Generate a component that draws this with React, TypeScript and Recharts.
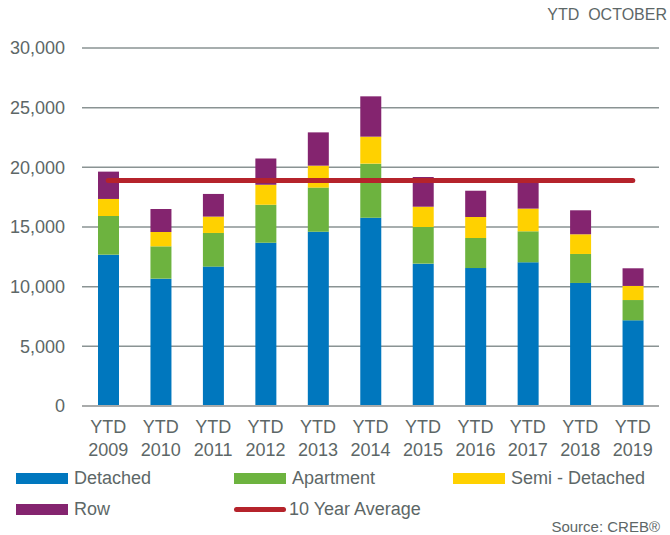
import { ComposedChart, Bar, Line, XAxis, YAxis, CartesianGrid } from 'recharts';

const years = ['2009', '2010', '2011', '2012', '2013', '2014', '2015', '2016', '2017', '2018', '2019'];
const detached = [12680, 10670, 11680, 13690, 14610, 15780, 11930, 11560, 12040, 10310, 7180];
const apartment = [3240, 2710, 2820, 3180, 3690, 4530, 3070, 2520, 2600, 2430, 1700];
const semiDetached = [1430, 1200, 1370, 1680, 1840, 2260, 1700, 1760, 1900, 1650, 1180];
const row = [2290, 1930, 1900, 2200, 2790, 3380, 2490, 2200, 2360, 2010, 1480];
const tenYearAverage = [18900, 18900, 18900, 18900, 18900, 18900, 18900, 18900, 18900, 18900, 18900];
const yTicks = [0, 5000, 10000, 15000, 20000, 25000, 30000];

const COLORS = {
  detached: '#0077BE',
  apartment: '#6DB33F',
  semi: '#FFD100',
  row: '#84246F',
  avg: '#B5232B',
};
const TEXT = '#5d6767';
const FONT = '"Liberation Sans", Arial, sans-serif';

const data = years.map((y, i) => ({
  year: y,
  detached: detached[i],
  apartment: apartment[i],
  semi: semiDetached[i],
  row: row[i],
  avg: tenYearAverage[i],
}));

function YearTick(props: any) {
  const { x, y, payload } = props;
  return (
    <text x={x} y={y} textAnchor="middle" fill={TEXT} fontSize={18} fontFamily={FONT}>
      <tspan x={x} dy={25}>YTD</tspan>
      <tspan x={x} dy={23}>{payload.value}</tspan>
    </text>
  );
}

function LegendItem({ left, top, label, color, line }: any) {
  return (
    <div style={{ position: 'absolute', left, top, display: 'flex', alignItems: 'center', height: 20 }}>
      {line ? (
        <div style={{ width: 52, height: 5, borderRadius: 3, background: color }} />
      ) : (
        <div style={{ width: 52, height: 11, background: color }} />
      )}
      <span style={{ marginLeft: line ? 3 : 6, fontSize: 18, color: TEXT, fontFamily: FONT }}>{label}</span>
    </div>
  );
}

export default function App() {
  return (
    <div style={{ position: 'absolute', left: 0, top: 0, width: 670, height: 535, background: '#fff', fontFamily: FONT }}>
      <div style={{ position: 'absolute', right: 3, top: 6, fontSize: 16, color: TEXT, whiteSpace: 'pre' }}>YTD  OCTOBER</div>
      <ComposedChart
        width={670}
        height={535}
        data={data}
        margin={{ top: 48, right: 11, bottom: 74, left: 0 }}
        barCategoryGap="30%"
      >
        <CartesianGrid vertical={false} stroke="#8a9393" strokeWidth={1.5} />
        <XAxis
          dataKey="year"
          tick={<YearTick />}
          tickLine={false}
          tickSize={0}
          axisLine={{ stroke: '#a9abab', strokeWidth: 2 }}
          height={55}
          interval={0}
        />
        <YAxis
          domain={[0, 30000]}
          ticks={yTicks}
          width={82}
          tickLine={false}
          tickSize={0}
          tickMargin={17}
          axisLine={false}
          tick={{ fill: TEXT, fontSize: 18, fontFamily: FONT }}
          tickFormatter={(v: number) => v.toLocaleString('en-US')}
        />
        <Bar dataKey="detached" stackId="a" fill={COLORS.detached} barSize={21} isAnimationActive={false} />
        <Bar dataKey="apartment" stackId="a" fill={COLORS.apartment} barSize={21} isAnimationActive={false} />
        <Bar dataKey="semi" stackId="a" fill={COLORS.semi} barSize={21} isAnimationActive={false} />
        <Bar dataKey="row" stackId="a" fill={COLORS.row} barSize={21} isAnimationActive={false} />
        <Line
          type="linear"
          dataKey="avg"
          stroke={COLORS.avg}
          strokeWidth={5}
          strokeLinecap="round"
          dot={false}
          activeDot={false}
          isAnimationActive={false}
        />
      </ComposedChart>
      <LegendItem left={16} top={468} label="Detached" color={COLORS.detached} />
      <LegendItem left={234} top={468} label="Apartment" color={COLORS.apartment} />
      <LegendItem left={453} top={468} label="Semi - Detached" color={COLORS.semi} />
      <LegendItem left={16} top={499} label="Row" color={COLORS.row} />
      <LegendItem left={234} top={499} label="10 Year Average" color={COLORS.avg} line />
      <div style={{ position: 'absolute', right: 10, top: 518, fontSize: 15, color: TEXT }}>Source: CREB®</div>
    </div>
  );
}
